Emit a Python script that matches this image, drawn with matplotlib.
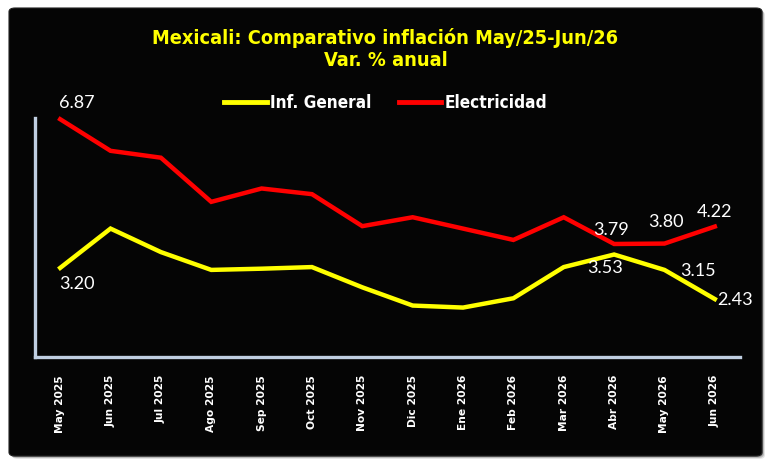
import matplotlib
matplotlib.use("Agg")
import matplotlib.pyplot as plt
from matplotlib.patches import FancyBboxPatch
from matplotlib import font_manager as fm

# find a condensed bold font if available
cond = None
for f in fm.fontManager.ttflist:
    nm = (f.name + " " + f.fname).lower()
    if ("narrow" in nm or "condensed" in nm or str(f.stretch) in ("condensed", "semi-condensed")) \
            and (f.weight in ("bold", 700) or "bold" in nm) and "oblique" not in nm and "italic" not in nm:
        cond = f.fname
        break
if cond:
    title_fp = fm.FontProperties(fname=cond, size=14.3)
    leg_fp = fm.FontProperties(fname=cond, size=12.3)
else:
    title_fp = fm.FontProperties(family="DejaVu Sans", weight="bold", size=13)
    leg_fp = fm.FontProperties(family="DejaVu Sans", weight="bold", size=11.5)

months = ["May 2025", "Jun 2025", "Jul 2025", "Ago 2025", "Sep 2025", "Oct 2025", "Nov 2025",
          "Dic 2025", "Ene 2026", "Feb 2026", "Mar 2026", "Abr 2026", "May 2026", "Jun 2026"]
inf_general = [3.20, 4.17, 3.59, 3.15, 3.18, 3.22, 2.72, 2.27, 2.22, 2.45, 3.22, 3.53, 3.15, 2.43]
electricidad = [6.87, 6.09, 5.92, 4.83, 5.16, 5.02, 4.23, 4.45, 4.17, 3.89, 4.45, 3.79, 3.80, 4.22]

title = "Mexicali: Comparativo inflación May/25-Jun/26\nVar. % anual"
series_names = ["Inf. General", "Electricidad"]

W, H = 771, 470
fig = plt.figure(figsize=(W / 100, H / 100), dpi=100)
fig.patch.set_facecolor("white")

def fx(px): return px / W
def fy(py): return 1 - py / H
for i, a in enumerate([0.10, 0.18, 0.28]):
    off = 3 - i
    sh = FancyBboxPatch((fx(9 + off), fy(456 + off)), fx(753), 448 / H,
                        boxstyle="round,pad=0,rounding_size=0.008",
                        transform=fig.transFigure, facecolor="black", alpha=a,
                        edgecolor="none", zorder=0)
    fig.add_artist(sh)
panel = FancyBboxPatch((fx(9), fy(456)), fx(753), 448 / H,
                       boxstyle="round,pad=0,rounding_size=0.008",
                       transform=fig.transFigure, facecolor="#050505",
                       edgecolor="#222222", linewidth=0.8, zorder=1)
fig.add_artist(panel)

ax = fig.add_axes([35 / W, 1 - 357 / H, (740 - 35) / W, (357 - 118) / H])
ax.set_zorder(2)
ax.patch.set_alpha(0)
x = list(range(len(months)))
ax.plot(x, inf_general, color="#ffff00", lw=3.2, solid_joinstyle="miter", clip_on=False,
        label=series_names[0])
ax.plot(x, electricidad, color="#ff0000", lw=3.2, solid_joinstyle="miter", clip_on=False,
        label=series_names[1])
ax.set_xlim(-0.5, len(months) - 0.5)
ax.set_ylim(1.0, 6.9)
ax.set_yticks([])
ax.set_xticks(x)
ax.set_xticklabels(months, rotation=90, color="white", fontsize=7.7, fontweight="bold",
                   family="DejaVu Sans")
ax.tick_params(axis="x", length=0, pad=13)
for s in ["top", "right"]:
    ax.spines[s].set_visible(False)
for s in ["left", "bottom"]:
    ax.spines[s].set_color("#c0cfe2")
    ax.spines[s].set_linewidth(2.4)

lab = dict(color="white", fontsize=13, family="Lato", textcoords="offset pixels")
n = len(months) - 1
ax.annotate(f"{electricidad[0]:.2f}", (0, electricidad[0]), xytext=(-1, 8), ha="left", va="bottom", **lab)
ax.annotate(f"{inf_general[0]:.2f}", (0, inf_general[0]), xytext=(-1, -8), ha="left", va="top", **lab)
ax.annotate(f"{electricidad[11]:.2f}", (11, electricidad[11]), xytext=(-3, 14), ha="center", va="center", **lab)
ax.annotate(f"{inf_general[11]:.2f}", (11, inf_general[11]), xytext=(-9, -13), ha="center", va="center", **lab)
ax.annotate(f"{electricidad[12]:.2f}", (12, electricidad[12]), xytext=(1, 22), ha="center", va="center", **lab)
ax.annotate(f"{inf_general[12]:.2f}", (12, inf_general[12]), xytext=(34, -1), ha="center", va="center", **lab)
ax.annotate(f"{electricidad[n]:.2f}", (n, electricidad[n]), xytext=(0, 15), ha="center", va="center", **lab)
ax.annotate(f"{inf_general[n]:.2f}", (n, inf_general[n]), xytext=(20, -1), ha="center", va="center", **lab)

fig.text(0.5, 1 - 49 / H, title, ha="center", va="center", color="#ffff00",
         fontproperties=title_fp, linespacing=1.25, zorder=3)

leg = fig.legend(loc="center", bbox_to_anchor=(0.5, 1 - 103 / H), ncol=2, frameon=False,
                 prop=leg_fp, handlelength=2.5, handletextpad=0.18, columnspacing=1.6)
for t in leg.get_texts():
    t.set_color("white")
for h in leg.legend_handles:
    h.set_linewidth(3.5)
leg.set_zorder(3)

fig.savefig("out.png", dpi=100, facecolor=fig.get_facecolor())
